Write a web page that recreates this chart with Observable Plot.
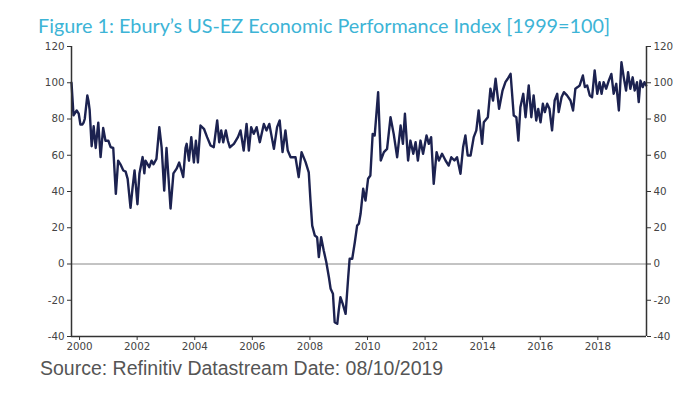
<!DOCTYPE html>
<html>
<head>
<meta charset="utf-8">
<script src="https://cdn.jsdelivr.net/npm/d3@7"></script>
<script src="https://cdn.jsdelivr.net/npm/@observablehq/plot@0.6"></script>
<style>
  html, body { margin: 0; padding: 0; background: #fff; }
  #wrap { width: 700px; height: 393px; position: relative; overflow: hidden; }
  #title { height: 38px; box-sizing: border-box; padding: 14px 0 0 38px; font-family: Lato, "Open Sans", sans-serif; font-size: 19.8px; color: #3db4d6; line-height: 22px; white-space: nowrap; }
  #caption { padding: 0 0 0 40px; margin-top: -1px; font-family: "Liberation Sans", Arial, sans-serif; font-size: 19.5px; color: #555; line-height: 22px; white-space: nowrap; }
  svg { display: block; }
</style>
</head>
<body>
<div id="wrap">
  <div id="title">Figure 1: Ebury’s US-EZ Economic Performance Index [1999=100]</div>
  <div id="chart"></div>
  <div id="caption">Source: Refinitiv Datastream Date: 08/10/2019</div>
</div>
<script>
const dates = [
  1999.72, 1999.79, 1999.90, 1999.97, 2000.03, 2000.10, 2000.14, 2000.18, 2000.27, 2000.31,
  2000.35, 2000.42, 2000.49, 2000.56, 2000.65, 2000.73, 2000.82, 2000.90, 2001.00, 2001.08,
  2001.17, 2001.26, 2001.34, 2001.42, 2001.52, 2001.60, 2001.67, 2001.77, 2001.84, 2001.91,
  2002.01, 2002.08, 2002.19, 2002.25, 2002.29, 2002.42, 2002.50, 2002.57, 2002.67, 2002.77,
  2002.85, 2002.94, 2003.02, 2003.16, 2003.26, 2003.37, 2003.46, 2003.60, 2003.68, 2003.72,
  2003.80, 2003.88, 2003.97, 2004.04, 2004.11, 2004.20, 2004.32, 2004.43, 2004.55, 2004.66,
  2004.78, 2004.85, 2004.92, 2004.99, 2005.08, 2005.15, 2005.22, 2005.36, 2005.50, 2005.59,
  2005.70, 2005.80, 2005.88, 2005.96, 2006.05, 2006.15, 2006.26, 2006.40, 2006.49, 2006.59,
  2006.75, 2006.86, 2006.95, 2007.05, 2007.15, 2007.23, 2007.33, 2007.50, 2007.61, 2007.71,
  2007.85, 2007.96, 2008.02, 2008.08, 2008.17, 2008.25, 2008.31, 2008.39, 2008.48, 2008.57,
  2008.66, 2008.72, 2008.80, 2008.86, 2008.95, 2009.00, 2009.06, 2009.14, 2009.24, 2009.33,
  2009.38, 2009.47, 2009.56, 2009.64, 2009.70, 2009.76, 2009.85, 2009.93, 2010.02, 2010.10,
  2010.18, 2010.25, 2010.37, 2010.46, 2010.57, 2010.68, 2010.80, 2010.91, 2011.03, 2011.15,
  2011.23, 2011.30, 2011.41, 2011.49, 2011.59, 2011.67, 2011.75, 2011.84, 2011.93, 2012.05,
  2012.13, 2012.21, 2012.30, 2012.40, 2012.48, 2012.59, 2012.71, 2012.82, 2012.91, 2013.02,
  2013.11, 2013.23, 2013.32, 2013.40, 2013.48, 2013.58, 2013.69, 2013.78, 2013.86, 2013.98,
  2014.04, 2014.18, 2014.27, 2014.36, 2014.45, 2014.57, 2014.69, 2014.79, 2014.87, 2014.97,
  2015.08, 2015.17, 2015.24, 2015.31, 2015.41, 2015.49, 2015.60, 2015.69, 2015.77, 2015.86,
  2015.93, 2016.01, 2016.09, 2016.16, 2016.24, 2016.32, 2016.41, 2016.50, 2016.59, 2016.64,
  2016.74, 2016.82, 2016.93, 2017.05, 2017.14, 2017.22, 2017.30, 2017.37, 2017.48, 2017.55,
  2017.63, 2017.72, 2017.80, 2017.89, 2017.98, 2018.06, 2018.13, 2018.20, 2018.29, 2018.38,
  2018.47, 2018.55, 2018.64, 2018.73, 2018.82, 2018.90, 2018.98, 2019.05, 2019.13, 2019.21,
  2019.28, 2019.36, 2019.42, 2019.48, 2019.56, 2019.62, 2019.68
];
const values = [
  100, 82, 84.7, 83, 77, 77, 78, 80, 93, 90,
  85, 65, 76, 64, 78, 59, 75, 68, 68, 64.5,
  64, 38.7, 57, 55, 51.6, 51, 47, 31, 42, 51.6,
  33, 50, 59, 50, 57, 53.4, 57, 55, 58, 75.5,
  64.4, 40.5, 64, 30.6, 50, 52.6, 56, 48, 64, 66.3,
  57, 70, 56, 68, 56, 76.4, 74.6, 70, 65.4, 64.4,
  79.2, 67.2, 73.7, 67.2, 73.7, 68, 64.4, 66.3, 70, 73.7,
  62.6, 77.3, 62.6, 75.5, 71.8, 75.5, 67.2, 77.3, 73.7, 77.3,
  63.5, 75.5, 79.2, 61.7, 73.7, 62.6, 58.9, 58.9, 47.9, 61.7,
  56.2, 50.6, 35, 21.2, 15.7, 14.8, 3.8, 14.8, 7.4, 1,
  -7.3, -13.7, -16.4, -32.1, -33, -25.7, -18.3, -22, -27.5, -7.3,
  2.9, 2.9, 12, 21.2, 22.2, 27.7, 41.5, 35, 47, 48.8,
  71.8, 70.9, 94.8, 57.1, 61.7, 63.5, 81, 71.8, 58.9, 76.4,
  66.3, 82.9, 57.1, 68.1, 60.8, 67.2, 57.1, 68.1, 60.8, 70.9,
  66.3, 70, 44.2, 61.7, 57.1, 60.8, 57.1, 54.3, 58.9, 57.1,
  58.9, 49.8, 64.4, 70.9, 59.9, 59.9, 70, 73.7, 84.7, 66.3,
  78.2, 81, 96.7, 90.2, 102.2, 85.6, 95.7, 100.3, 102.2, 104.9,
  81.9, 81, 68.1, 86.5, 93.9, 81, 98.5, 81, 93, 79.2,
  85.6, 78.2, 88.4, 83.8, 88.4, 85.6, 73.7, 90.2, 93.9, 83.8,
  92, 94.8, 93, 90.2, 84.7, 96.7, 97.6, 98.5, 104, 97.6,
  98.5, 93, 92, 106.8, 93.9, 100.3, 93.9, 100.3, 96.7, 101.2,
  104.9, 93.9, 99.4, 84.7, 111.3, 103, 95.7, 105.8, 96.7, 103,
  95.7, 100.3, 89.3, 101.2, 97.6, 100.3, 98.5
];
const xTicks = [2000, 2002, 2004, 2006, 2008, 2010, 2012, 2014, 2016, 2018];
const yTicks = [-40, -20, 0, 20, 40, 60, 80, 100, 120];
const xDomain = [1999.72, 2019.69];
const yDomain = [-40, 120];

const data = dates.map((t, i) => ({t, v: values[i]}));
const axisFont = "DejaVu Sans, Verdana, sans-serif";
const axisColor = "#333";
const fmt = d => String(d);

const chart = Plot.plot({
  width: 700,
  height: 320,
  marginLeft: 71,
  marginRight: 54,
  marginTop: 8,
  marginBottom: 22,
  style: {fontFamily: axisFont, fontSize: "10.3px", color: "#444", background: "transparent"},
  x: {domain: xDomain},
  y: {domain: yDomain},
  marks: [
    Plot.ruleY([0], {stroke: "#888", strokeWidth: 1}),
    Plot.line(data, {x: "t", y: "v", stroke: "#1c2250", strokeWidth: 2.4, strokeLinejoin: "round"}),
    Plot.ruleX([xDomain[0]], {stroke: axisColor, strokeWidth: 1.5}),
    Plot.ruleX([xDomain[1]], {stroke: axisColor, strokeWidth: 1.5}),
    Plot.ruleY([yDomain[0]], {stroke: axisColor, strokeWidth: 1.5}),
    Plot.axisY({anchor: "left", ticks: yTicks, tickFormat: fmt, tickSize: 4, tickPadding: 3, label: null, stroke: axisColor}),
    Plot.axisY({anchor: "right", ticks: yTicks, tickFormat: fmt, tickSize: 4, tickPadding: 3, label: null, stroke: axisColor}),
    Plot.axisX({ticks: xTicks, tickFormat: fmt, tickSize: 4, tickPadding: 2, label: null, stroke: axisColor})
  ]
});
document.getElementById("chart").appendChild(chart);
</script>
</body>
</html>
